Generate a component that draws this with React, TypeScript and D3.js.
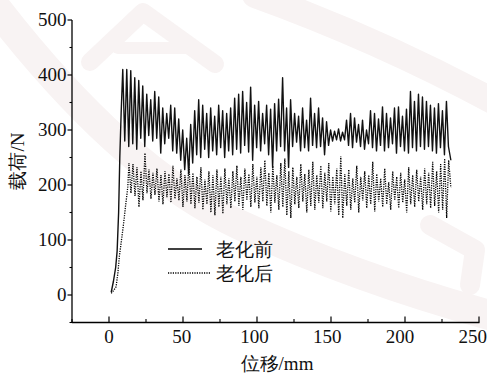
import React from "react";
import * as d3 from "d3";

// Load–displacement records, before and after ageing.
// Rising part of each curve: explicit (displacement, load) pairs.
const beforeRampX = [1.5, 3, 4.5, 5.5, 6.5, 7.3, 8.2];
const beforeRampY = [5, 25, 50, 80, 150, 250, 330];
// Steady part: loads sampled every 1.35 mm from 9.3 mm.
const beforeStart = 9.3;
const beforeLoads = [
  410, 280, 410, 270, 408, 275, 395, 265, 390, 285, 380, 270, 365, 290, 355, 280,
  370, 285, 360, 258, 340, 275, 330, 285, 345, 262, 340, 258, 320, 245, 300, 228,
  285, 220, 310, 240, 335, 255, 355, 250, 345, 265, 330, 250, 340, 262, 325, 255,
  345, 268, 335, 250, 330, 262, 340, 255, 358, 265, 365, 258, 370, 272, 350, 260,
  378, 245, 345, 268, 352, 262, 330, 275, 345, 255, 338, 232, 348, 262, 356, 270,
  395, 262, 340, 232, 355, 270, 330, 278, 325, 262, 340, 268, 318, 262, 358, 272,
  330, 268, 340, 270, 322, 255, 315, 272, 300, 280, 298, 282, 302, 280, 296, 282,
  318, 272, 330, 268, 322, 278, 310, 270, 318, 265, 300, 275, 335, 268, 330, 262,
  320, 272, 342, 262, 330, 268, 322, 275, 340, 258, 342, 270, 325, 262, 338, 258,
  370, 268, 352, 262, 365, 270, 360, 265, 352, 270, 345, 262, 340, 258, 348, 268,
  335, 255, 352, 270,
];
const beforeEnd: [number, number] = [231, 245];

const afterRampX = [1.5, 3, 4.8, 6, 7, 8.2, 9.3, 10.3, 11.1, 12, 12.7];
const afterRampY = [3, 8, 15, 40, 70, 95, 118, 140, 160, 180, 197];
const afterStart = 13.5;
const afterLoads = [
  240, 185, 238, 180, 232, 160, 225, 172, 258, 185, 228, 175, 222, 182, 230, 170,
  218, 165, 225, 178, 220, 168, 235, 175, 212, 172, 228, 160, 218, 170, 240, 165,
  222, 158, 215, 168, 232, 155, 210, 165, 225, 150, 218, 145, 228, 160, 215, 148,
  230, 165, 212, 158, 225, 170, 235, 162, 215, 155, 230, 172, 220, 160, 238, 168,
  215, 158, 232, 170, 245, 162, 222, 150, 235, 168, 218, 155, 240, 160, 248, 145,
  225, 140, 232, 165, 215, 158, 238, 170, 220, 150, 228, 162, 242, 155, 218, 168,
  235, 158, 222, 170, 240, 152, 215, 165, 230, 145, 252, 140, 220, 162, 228, 155,
  212, 168, 235, 150, 215, 172, 225, 158, 218, 165, 242, 152, 220, 170, 212, 160,
  230, 165, 205, 155, 225, 172, 215, 158, 222, 168, 210, 150, 232, 165, 218, 160,
  228, 170, 215, 155, 230, 165, 222, 158, 242, 162, 225, 150, 238, 155, 248, 140,
  245,
];
const afterEnd: [number, number] = [231, 195];
const sampleStep = 1.35;

const xTicks = [0, 50, 100, 150, 200, 250];
const xMinorTicks = [-25, 25, 75, 125, 175, 225];
const yTicks = [0, 100, 200, 300, 400, 500];
const yMinorTicks = [-50, 50, 150, 250, 350, 450];

const seriesNames = ["老化前", "老化后"];
const xTitle = "位移/mm";
const yTitle = "载荷/N";

type Pt = [number, number];

function buildSeries(
  rampX: number[],
  rampY: number[],
  start: number,
  loads: number[],
  end: Pt
): Pt[] {
  const pts: Pt[] = rampX.map((x, i) => [x, rampY[i]] as Pt);
  loads.forEach((v, i) => pts.push([start + i * sampleStep, v]));
  pts.push(end);
  return pts;
}

const W = 487;
const H = 374;
const serif = "Liberation Serif";
const ink = "#111";
const markColor = "#f8f3f3";

export default function App() {
  const x = d3.scaleLinear().domain([-25, 250]).range([72, 479]);
  const y = d3.scaleLinear().domain([-50, 500]).range([322.5, 20]);
  const line = d3
    .line<Pt>()
    .x((d) => x(d[0]))
    .y((d) => y(d[1]));

  const before = buildSeries(beforeRampX, beforeRampY, beforeStart, beforeLoads, beforeEnd);
  const after = buildSeries(afterRampX, afterRampY, afterStart, afterLoads, afterEnd);

  const x0 = x(-25);
  const yBase = y(-50);

  return (
    <div style={{ position: "fixed", left: 0, top: 0, width: W, height: H, background: "#fff" }}>
      <svg width={W} height={H} style={{ display: "block" }}>
        <rect width={W} height={H} fill="#fff" />

        {/* faint background seal */}
        <g fill="none" stroke={markColor} strokeLinecap="round">
          <path d="M -10 0 Q 120 170 240 225 T 500 318" strokeWidth={30} />
          <path d="M 255 -5 Q 380 40 500 105" strokeWidth={26} />
          <path d="M 90 62 L 143 12 L 215 64" strokeWidth={18} strokeLinejoin="round" />
          <path d="M 118 48 L 185 48" strokeWidth={12} />
          <path d="M 430 225 L 475 250 L 470 285" strokeWidth={20} strokeLinejoin="round" />
        </g>

        {/* data */}
        <path d={line(after) || ""} fill="none" stroke="#000" strokeWidth={1.3} strokeDasharray="1.2 1.2" />
        <path d={line(before) || ""} fill="none" stroke={ink} strokeWidth={1.4} strokeLinejoin="round" />

        {/* axes */}
        <line x1={x0} x2={x0} y1={y(500)} y2={yBase} stroke="#000" strokeWidth={1.3} />
        <line x1={x0} x2={x(250) + 0.5} y1={yBase} y2={yBase} stroke="#000" strokeWidth={1.3} />

        {yTicks.map((t) => (
          <g key={"yt" + t}>
            <line x1={x0 - 4.5} x2={x0} y1={y(t)} y2={y(t)} stroke="#000" strokeWidth={1.2} />
            <text x={x0 - 5.5} y={y(t) + 6} textAnchor="end" fontFamily={serif} fontSize={19} fill={ink}>
              {t}
            </text>
          </g>
        ))}
        {yMinorTicks.map((t) => (
          <line key={"ym" + t} x1={x0 - 2.5} x2={x0} y1={y(t)} y2={y(t)} stroke="#000" strokeWidth={1.1} />
        ))}

        {xTicks.map((t) => (
          <g key={"xt" + t}>
            <line x1={x(t)} x2={x(t)} y1={yBase - 6} y2={yBase} stroke="#000" strokeWidth={1.2} />
            <text
              x={x(t) - t / 40}
              y={yBase + 20.5}
              textAnchor="middle"
              fontFamily={serif}
              fontSize={19}
              fill={ink}
            >
              {t}
            </text>
          </g>
        ))}
        {xMinorTicks.map((t) => (
          <line key={"xm" + t} x1={x(t)} x2={x(t)} y1={yBase - 3.5} y2={yBase} stroke="#000" strokeWidth={1.1} />
        ))}

        {/* axis titles */}
        <text x={277} y={370} textAnchor="middle" fontFamily={serif} fontSize={19} fill={ink}>
          {xTitle}
        </text>
        <text
          transform={`translate(24, 161) rotate(-90)`}
          textAnchor="middle"
          fontFamily={serif}
          fontSize={19}
          fill={ink}
        >
          {yTitle}
        </text>

        {/* legend */}
        <line x1={168} x2={202} y1={249} y2={249} stroke="#000" strokeWidth={1.3} />
        <text x={216} y={255.5} fontFamily={serif} fontSize={18.5} fill={ink}>
          {seriesNames[0]}
        </text>
        <line x1={168} x2={210} y1={273} y2={273} stroke="#000" strokeWidth={1.3} strokeDasharray="1.2 1.2" />
        <text x={216} y={279.5} fontFamily={serif} fontSize={18.5} fill={ink}>
          {seriesNames[1]}
        </text>
      </svg>
    </div>
  );
}
